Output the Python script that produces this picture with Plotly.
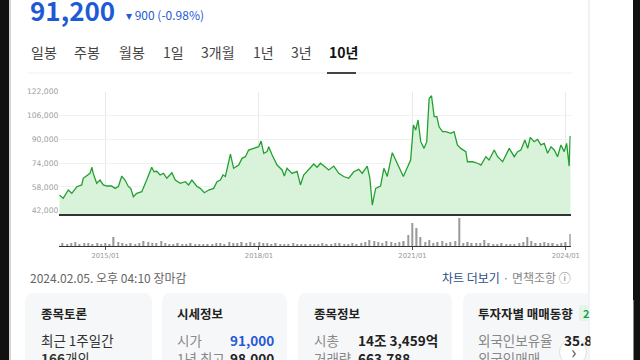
import plotly.graph_objects as go

W, H = 640, 360
def px(x): return x / W
def py(y): return 1 - y / H

# ---------------- data ----------------
price_dates = [
 "2014-02-05","2014-03-05","2014-04-10","2014-05-05","2014-06-10","2014-07-15","2014-07-26","2014-08-24","2014-09-12","2014-09-26","2014-10-05","2014-10-30","2014-11-23","2014-12-16",
 "2015-01-10","2015-02-14","2015-03-10","2015-04-03","2015-04-27","2015-05-20","2015-06-13","2015-06-30","2015-07-19","2015-08-12","2015-09-17","2015-10-22","2015-11-27","2015-12-14",
 "2016-01-02","2016-01-26","2016-02-19","2016-03-14","2016-04-19","2016-05-13","2016-06-18","2016-07-24","2016-08-16","2016-09-09","2016-10-15","2016-11-08","2016-12-07",
 "2017-01-06","2017-02-11","2017-03-07","2017-03-31","2017-04-19","2017-05-06","2017-06-11","2017-07-04","2017-08-09","2017-09-02","2017-09-26","2017-10-19","2017-11-24","2017-12-30",
 "2018-01-16","2018-02-04","2018-02-28","2018-03-11","2018-04-05","2018-05-10","2018-06-15","2018-07-01","2018-07-20","2018-08-25","2018-09-30","2018-10-24","2018-11-16","2018-12-22",
 "2019-01-27","2019-02-20","2019-03-16","2019-04-21","2019-05-14","2019-06-19","2019-07-25","2019-08-29","2019-10-04","2019-11-09","2019-12-15",
 "2020-01-08","2020-02-13","2020-03-03","2020-03-20","2020-04-13","2020-05-18","2020-06-11","2020-07-05","2020-08-10","2020-09-03","2020-10-02","2020-10-28","2020-11-26","2020-12-19",
 "2021-01-08","2021-01-24","2021-02-10","2021-03-01","2021-03-25","2021-04-13","2021-04-30","2021-05-17","2021-06-05","2021-06-24","2021-07-10","2021-08-04","2021-08-27","2021-10-02","2021-10-25","2021-11-18","2021-12-12",
 "2022-01-17","2022-01-29","2022-03-06","2022-04-11","2022-05-05","2022-06-09","2022-07-02","2022-08-08","2022-09-01","2022-10-07","2022-10-30","2022-11-23","2022-12-29",
 "2023-01-22","2023-02-14","2023-03-15","2023-04-04","2023-04-22","2023-05-20","2023-06-13","2023-07-07","2023-07-31","2023-08-24","2023-09-17","2023-10-11","2023-11-03","2023-11-27","2023-12-21",
 "2024-01-07","2024-01-25","2024-02-01","2024-02-05"]

price_values = [
 52550,50300,55900,53700,58100,59300,63800,66000,67100,71200,67100,60400,62600,59300,
 58600,58600,57000,58300,65300,62600,58300,57000,51400,53700,54800,62600,71200,68200,
 68500,66000,67100,63800,67500,62600,60400,61500,59300,62600,58300,57000,54100,
 55900,57000,61500,62600,66000,65000,80100,70500,72700,77200,78300,82800,83900,85000,
 88800,80600,81700,85000,79400,72700,69400,65300,70500,67100,68500,59300,66000,69400,
 73400,71200,73900,71200,69400,72000,67100,65000,63800,68200,69800,
 67100,72000,63800,45800,57000,58600,70500,65000,81000,76100,70500,65000,71200,76100,
 99600,96200,103000,88400,83900,88400,117500,119300,105200,105200,98400,95100,95100,94000,95100,86200,83900,
 81700,74900,74900,73900,72700,78300,76100,82800,78300,74900,79400,83900,78300,
 81700,82800,89500,83900,91300,88400,89900,86200,87300,80600,85000,82800,78300,86200,81700,
 87300,72000,92200,91200]

# monthly volume (thousand shares), Feb 2014 .. Feb 2024
volume_values = [
 500,750,500,750,1000,500,750,750,500,750,500,
 750,500,2250,1000,750,500,750,500,750,1250,1000,750,
 750,1250,750,500,500,750,500,500,750,500,500,500,
 500,500,750,750,500,1000,750,750,1000,750,1000,750,
 1000,750,750,500,750,500,500,500,750,500,500,500,
 500,500,500,750,500,500,750,750,500,500,750,500,
 750,1000,1500,1250,1000,750,1250,1000,750,1000,1250,2750,
 5750,4500,2250,1000,1500,750,1000,1250,750,1000,1250,7000,
 750,1000,750,750,750,1500,750,500,500,750,500,500,
 500,750,1000,2250,1250,750,750,1000,750,750,500,750,
 1000,3000]
volume_months = [f"{y}-{m:02d}-01" for y in range(2014, 2025) for m in range(1, 13)][1:1 + len(volume_values)]

y_ticks = [42000, 58000, 74000, 90000, 106000, 122000]
y_tick_text = ["42,000", "58,000", "74,000", "90,000", "106,000", "122,000"]
x_ticks = ["2015-01-01", "2018-01-01", "2021-01-01", "2024-01-01"]
x_tick_text = ["2015/01", "2018/01", "2021/01", "2024/01"]

tabs = ["일봉", "주봉", "월봉", "1일", "3개월", "1년", "3년", "10년"]
tab_x = [30, 73, 118, 162, 200, 252, 290, 328]

KR = "Noto Sans CJK KR, Noto Sans, sans-serif"
BLUE = "#1f5ad6"

fig = go.Figure()
fig.add_trace(go.Scatter(
    x=price_dates, y=price_values, mode="lines",
    line=dict(color="#23a032", width=1.3),
    fill="tozeroy", fillcolor="#d8f3da",
    xaxis="x", yaxis="y", hoverinfo="skip"))
fig.add_trace(go.Bar(
    x=volume_months, y=volume_values, marker=dict(color="#9a9a9a", line=dict(width=0)),
    width=8e8, xaxis="x2", yaxis="y2", hoverinfo="skip"))

xr = ["2014-02-05", "2024-02-05"]
fig.update_layout(
    width=W, height=H, margin=dict(l=0, r=0, t=0, b=0),
    paper_bgcolor="white", plot_bgcolor="rgba(0,0,0,0)", showlegend=False,
    xaxis=dict(domain=[px(59.3), px(570.7)], type="date", range=xr,
               tickvals=x_ticks, showticklabels=False, showgrid=True,
               gridcolor="#e9e9e9", gridwidth=1, showline=True,
               linecolor="#333", linewidth=1.5, anchor="y", zeroline=False,
               automargin=False),
    yaxis=dict(domain=[py(214), py(91.7)], range=[39780, 122000],
               tickvals=y_ticks, ticktext=y_tick_text, showgrid=True,
               gridcolor="#f1f1f1", zeroline=False,
               tickfont=dict(family="DejaVu Sans", size=7.6, color="#a0a0a0"),
               anchor="x", automargin=False),
    xaxis2=dict(domain=[px(59.3), px(570.7)], type="date", range=xr,
                tickvals=x_ticks, ticktext=x_tick_text, showgrid=False,
                ticks="outside", ticklen=3, tickcolor="#555",
                showline=True, linecolor="#333", linewidth=1.2,
                tickfont=dict(family="DejaVu Sans", size=6.8, color="#999"),
                anchor="y2", zeroline=False, automargin=False),
    yaxis2=dict(domain=[py(246), py(216)], range=[0, 7500], visible=False, anchor="x2"),
)

shapes = []
def rect(x0, y0, x1, y1, color, line=None, layer="below"):
    shapes.append(dict(type="rect", xref="paper", yref="paper",
                       x0=px(x0), x1=px(x1), y0=py(y1), y1=py(y0),
                       fillcolor=color, line=dict(width=0) if line is None else line,
                       layer=layer))

def rounded(x0, y0, x1, y1, r, color, round_right=True):
    X = lambda v: f"{px(v):.5f}"
    Y = lambda v: f"{py(v):.5f}"
    if round_right:
        p = (f"M {X(x0+r)},{Y(y0)} L {X(x1-r)},{Y(y0)} Q {X(x1)},{Y(y0)} {X(x1)},{Y(y0+r)} "
             f"L {X(x1)},{Y(y1)} L {X(x0)},{Y(y1)} L {X(x0)},{Y(y0+r)} Q {X(x0)},{Y(y0)} {X(x0+r)},{Y(y0)} Z")
    else:
        p = (f"M {X(x0+r)},{Y(y0)} L {X(x1)},{Y(y0)} "
             f"L {X(x1)},{Y(y1)} L {X(x0)},{Y(y1)} L {X(x0)},{Y(y0+r)} Q {X(x0)},{Y(y0)} {X(x0+r)},{Y(y0)} Z")
    shapes.append(dict(type="path", xref="paper", yref="paper", path=p,
                       fillcolor=color, line=dict(width=0), layer="below"))

# page frame
rect(0, 0, 9, 360, "#111111")
rect(9, 0, 11, 360, "#d6d6d6")
rect(633, 0, 640, 360, "#111111")
rect(588.5, 0, 589.5, 360, "#e6e6e6")
# tabs line + underline
rect(28, 72.5, 572, 73.5, "#f0f0f0")
rect(327, 72, 356, 74, "#444444")
# cards
CARD = "#f6f7f8"
rounded(25, 293, 152, 380, 9, CARD)
rounded(162, 293, 287, 380, 9, CARD)
rounded(298, 293, 452, 380, 9, CARD)
rounded(463, 293, 588.5, 380, 9, CARD, round_right=False)
# badge
rect(579, 305, 588.5, 321, "#e3f5e8")
# round button
shapes.append(dict(type="circle", xref="paper", yref="paper",
                   x0=px(559.5), x1=px(586.5), y0=py(365.5), y1=py(338.5),
                   fillcolor="white", line=dict(color="#e0e0e0", width=1), layer="above"))
fig.update_layout(shapes=shapes)

ann = []
def text(x, y, s, size=13, color="#333", anchor="left", family=KR, yanchor="middle"):
    ann.append(dict(xref="paper", yref="paper", x=px(x), y=py(y), text=s,
                    showarrow=False, xanchor=anchor, yanchor=yanchor,
                    font=dict(family=family, size=size, color=color)))

text(28, 9, "<b>91,200</b>", size=26, color=BLUE)
text(124, 15, "▾ 900 (-0.98%)", size=12, color=BLUE)
for t, x in zip(tabs, tab_x):
    if t == "10년":
        text(x - 1, 52, f"<b>{t}</b>", size=14, color="#111")
    else:
        text(x - 1, 52, t, size=14, color="#444")

text(28, 277, "2024.02.05. 오후 04:10 장마감", size=12, color="#666")
text(573, 277, "<span style='color:#2b4f87'>차트 더보기</span> · 면책조항 ⓘ",
     size=12, color="#888", anchor="right")

ROW = 13.5
# card 1
text(39, 313, "<b>종목토론</b>", size=12.5, color="#222")
text(39, 340, "최근 1주일간", size=ROW, color="#333")
text(39, 358, "<b>166</b>개의", size=ROW, color="#333")
# card 2
text(175, 313, "<b>시세정보</b>", size=12.5, color="#222")
text(175, 340, "시가", size=ROW, color="#888")
text(228, 340, "<b>91,000</b>", size=ROW, color=BLUE)
text(175, 358, "1년 최고", size=ROW, color="#888")
text(228, 358, "<b>98,000</b>", size=ROW, color="#222")
# card 3
text(312, 313, "<b>종목정보</b>", size=12.5, color="#222")
text(312, 340, "시총", size=ROW, color="#888")
text(356, 340, "<b>14조 3,459억</b>", size=ROW, color="#222")
text(312, 358, "거래량", size=ROW, color="#888")
text(356, 358, "<b>663,788</b>", size=ROW, color="#222")
# card 4
text(476, 313, "<b>투자자별 매매동향</b>", size=12.5, color="#222")
text(581, 313, "<b>2</b>", size=11, color="#19a04b")
text(476, 340, "외국인보유율", size=ROW, color="#888")
text(562, 340, "<b>35.89%</b>", size=ROW, color="#222")
text(476, 358, "외국인매매", size=ROW, color="#888")
text(573, 351, "›", size=18, color="#555", anchor="center")
# cover overflow on the right side
ann.append(dict(xref="paper", yref="paper", x=px(589.5), y=py(300), xanchor="left", yanchor="top",
                text=" ", showarrow=False, width=43, height=70, bgcolor="white", borderpad=0))
ann.append(dict(xref="paper", yref="paper", x=px(633), y=py(300), xanchor="left", yanchor="top",
                text=" ", showarrow=False, width=8, height=70, bgcolor="#111111", borderpad=0))
fig.update_layout(annotations=ann)

fig.write_html("out.html", config={"displayModeBar": False},
               post_script="document.body.style.margin='0';document.body.style.overflow='hidden';")
